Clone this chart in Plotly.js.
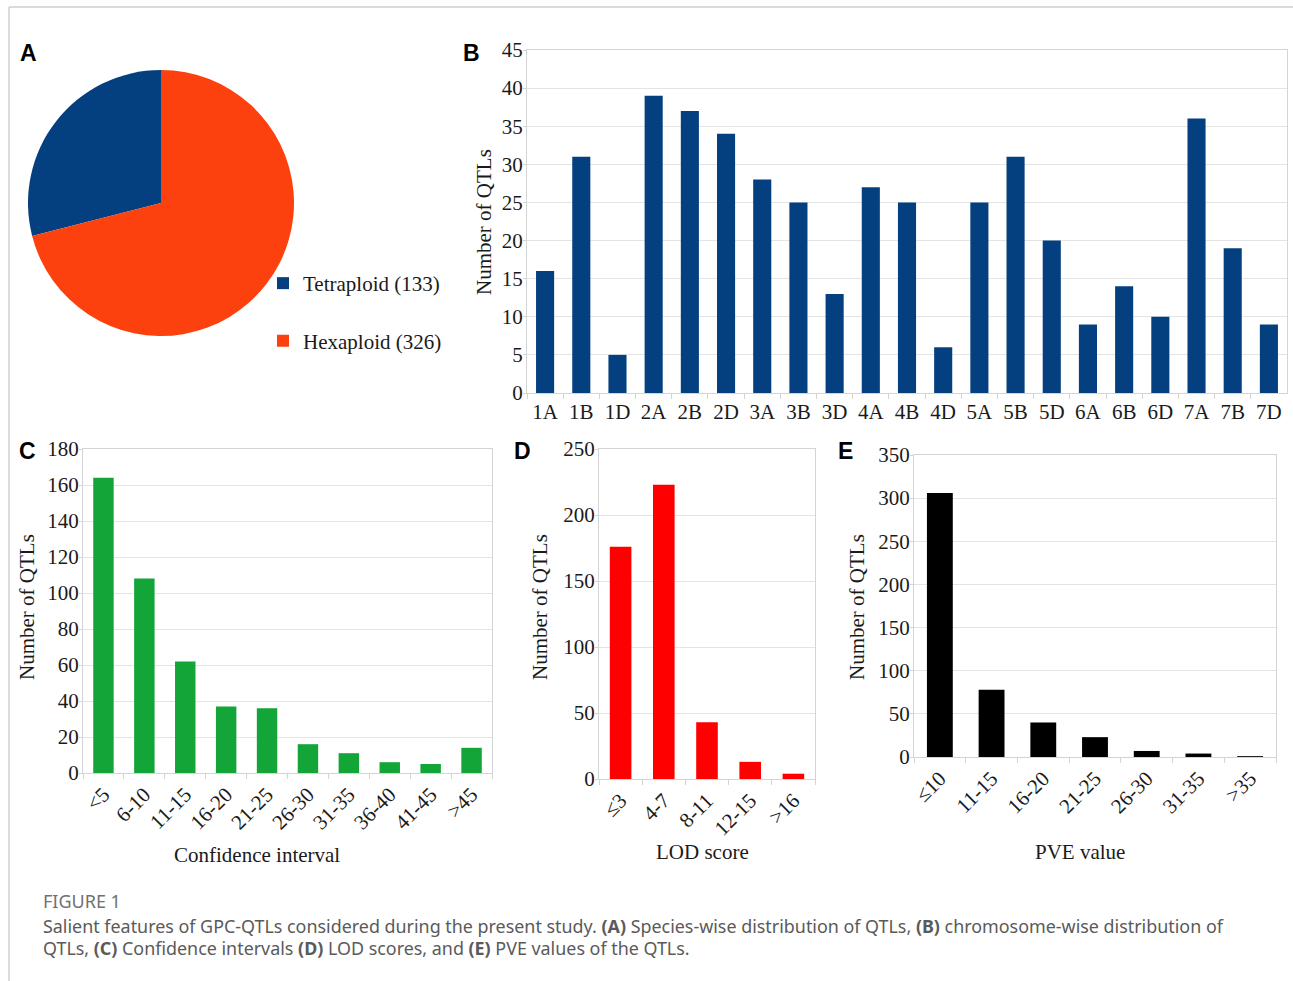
<!DOCTYPE html>
<html>
<head>
<meta charset="utf-8">
<script src="https://cdn.plot.ly/plotly-3.0.1.min.js"></script>
<style>
  html, body { margin: 0; padding: 0; background: #fff; }
  #chart { width: 1293px; height: 981px; }
</style>
</head>
<body>
<div id="chart"></div>
<script>
// ---------------- data ----------------
const ploidyNames = ["Tetraploid", "Hexaploid"];
const ploidyCounts = [133, 326];

const chromosomes = ["1A","1B","1D","2A","2B","2D","3A","3B","3D","4A","4B","4D","5A","5B","5D","6A","6B","6D","7A","7B","7D"];
const chromosomeCounts = [16, 31, 5, 39, 37, 34, 28, 25, 13, 27, 25, 6, 25, 31, 20, 9, 14, 10, 36, 19, 9];

const ciLabels = ["<5","6-10","11-15","16-20","21-25","26-30","31-35","36-40","41-45",">45"];
const ciCounts = [164, 108, 62, 37, 36, 16, 11, 6, 5, 14];

const lodLabels = ["\u22643","4-7","8-11","12-15",">16"];
const lodCounts = [176, 223, 43, 13, 4];

const pveLabels = ["\u226410","11-15","16-20","21-25","26-30","31-35",">35"];
const pveCounts = [306, 78, 40, 23, 7, 4, 1];

// ---------------- helpers ----------------
const W = 1293, H = 981;
const px = v => v / W;
const py = v => 1 - v / H;
const SERIF = "Liberation Serif, Times New Roman, serif";
const SANS = "Noto Sans, Open Sans, sans-serif";
const GRID = "#e4e4e4";
const LINE = "#d4d4d4";

function xCat(left, right, anchor, angle) {
  return {
    domain: [px(left), px(right)], anchor: anchor, type: "category",
    showline: true, linecolor: LINE, linewidth: 1, mirror: true,
    ticks: "outside", tickson: "boundaries", ticklen: 5, tickcolor: LINE,
    showgrid: false, zeroline: false, tickangle: angle,
    tickfont: { family: SERIF, size: 21, color: "#1a1a1a" }
  };
}
function yLin(top, bottom, anchor, max, dtick) {
  return {
    domain: [py(bottom), py(top)], anchor: anchor, range: [0, max], dtick: dtick,
    showline: true, linecolor: LINE, linewidth: 1, mirror: true,
    ticks: "outside", ticklen: 3, tickcolor: LINE, ticklabelstandoff: -4,
    showgrid: true, gridcolor: GRID, gridwidth: 1, zeroline: false,
    tickfont: { family: SERIF, size: 21, color: "#1a1a1a" }
  };
}

// first slice (Tetraploid) ends at 12 o'clock, lying on the left side
const ploidyTotal = ploidyCounts.reduce((a, b) => a + b, 0);
const pieRotation = -360 * ploidyCounts[0] / ploidyTotal;

// ---------------- traces ----------------
const traces = [
  {
    type: "pie",
    labels: ploidyNames.map((n, i) => n + " (" + ploidyCounts[i] + ")<br> "),
    values: ploidyCounts,
    marker: { colors: ["#04407F", "#FC400E"], line: { width: 0 } },
    sort: false, direction: "clockwise", rotation: pieRotation,
    textinfo: "none", hoverinfo: "label+value",
    domain: { x: [px(28), px(294)], y: [py(336), py(70)] },
    showlegend: true
  },
  { type: "bar", x: chromosomes, y: chromosomeCounts, xaxis: "x", yaxis: "y",
    marker: { color: "#04407F" }, showlegend: false },
  { type: "bar", x: ciLabels, y: ciCounts, xaxis: "x2", yaxis: "y2",
    marker: { color: "#13A538" }, showlegend: false },
  { type: "bar", x: lodLabels, y: lodCounts, xaxis: "x3", yaxis: "y3",
    marker: { color: "#FF0000" }, showlegend: false },
  { type: "bar", x: pveLabels, y: pveCounts, xaxis: "x4", yaxis: "y4",
    marker: { color: "#000000" }, showlegend: false }
];

// ---------------- annotations ----------------
function panelLabel(t, x, y) {
  return { text: "<b>" + t + "</b>", xref: "paper", yref: "paper", x: px(x), y: py(y),
           xanchor: "center", yanchor: "middle", showarrow: false,
           font: { family: "Liberation Sans, Arial, sans-serif", size: 23, color: "#000" } };
}
function yTitle(x, y) {
  return { text: "Number of QTLs", xref: "paper", yref: "paper", x: px(x), y: py(y),
           xanchor: "center", yanchor: "middle", textangle: -90, showarrow: false,
           font: { family: SERIF, size: 21, color: "#1a1a1a" } };
}
function xTitle(t, x, y) {
  return { text: t, xref: "paper", yref: "paper", x: px(x), y: py(y),
           xanchor: "center", yanchor: "middle", showarrow: false,
           font: { family: SERIF, size: 21, color: "#1a1a1a" } };
}
function caption(t, y, size, color) {
  return { text: t, xref: "paper", yref: "paper", x: px(41), y: py(y),
           xanchor: "left", yanchor: "middle", showarrow: false, align: "left",
           font: { family: SANS, size: size, color: color } };
}

const annotations = [
  panelLabel("A", 28, 53), panelLabel("B", 471, 53), panelLabel("C", 27, 451),
  panelLabel("D", 522, 451), panelLabel("E", 845, 451),
  yTitle(484, 222), yTitle(27, 607), yTitle(540, 607), yTitle(857, 607),
  xTitle("Confidence interval", 257, 855), xTitle("LOD score", 702, 852),
  xTitle("PVE value", 1080, 852),
  caption("FIGURE 1", 901, 18, "#707070"),
  caption("Salient features of GPC-QTLs considered during the present study. <b>(A)</b> Species-wise distribution of QTLs, <b>(B)</b> chromosome-wise distribution of", 926, 17.9, "#5a5a5a"),
  caption("QTLs, <b>(C)</b> Confidence intervals <b>(D)</b> LOD scores, and <b>(E)</b> PVE values of the QTLs.", 948, 17.9, "#5a5a5a")
];

const shapes = [
  { type: "line", xref: "paper", yref: "paper", x0: px(9), x1: 1, y0: py(7), y1: py(7),
    line: { color: "#cfcfcf", width: 1.5 } },
  { type: "line", xref: "paper", yref: "paper", x0: px(9), x1: px(9), y0: py(7), y1: 0,
    line: { color: "#cfcfcf", width: 1.5 } }
];

const layout = {
  width: W, height: H,
  margin: { l: 0, r: 0, t: 0, b: 0, pad: 0 },
  paper_bgcolor: "#ffffff", plot_bgcolor: "#ffffff",
  bargap: 0.5,
  showlegend: true,
  legend: {
    x: px(263), y: py(263), xanchor: "left", yanchor: "top",
    font: { family: SERIF, size: 21, color: "#1a1a1a" },
    bgcolor: "rgba(0,0,0,0)", valign: "top", itemwidth: 30
  },
  xaxis: xCat(527, 1287, "y", 0),
  yaxis: yLin(50, 393, "x", 45, 5),
  xaxis2: xCat(83, 492, "y2", -45),
  yaxis2: yLin(449, 773, "x2", 180, 20),
  xaxis3: xCat(599, 815, "y3", -45),
  yaxis3: yLin(449, 779, "x3", 250, 50),
  xaxis4: xCat(914, 1276, "y4", -45),
  yaxis4: yLin(455, 757, "x4", 350, 50),
  annotations: annotations,
  shapes: shapes
};

Plotly.newPlot("chart", traces, layout, { displayModeBar: false, staticPlot: true });
</script>
</body>
</html>
